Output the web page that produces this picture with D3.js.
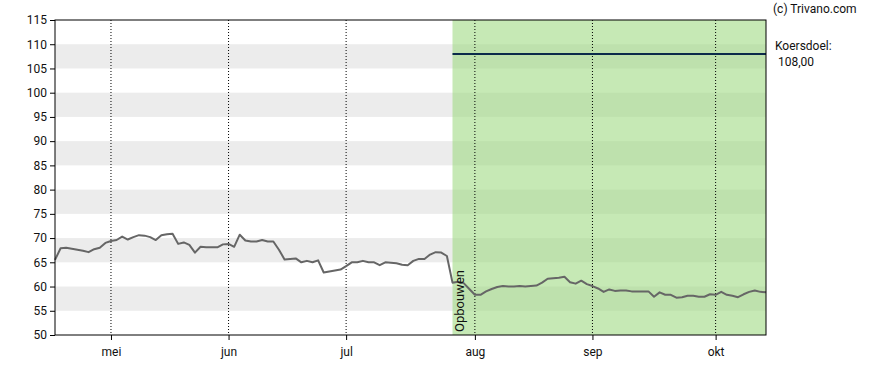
<!DOCTYPE html>
<html>
<head>
<meta charset="utf-8">
<script src="https://cdn.jsdelivr.net/npm/d3@7"></script>
<style>
  body { margin: 0; background: #fff; }
  svg text { font-family: Roboto, "Noto Sans", sans-serif; font-size: 12px; fill: #111; }
</style>
</head>
<body>
<div id="chart"></div>
<script>
// koers per handelsdag (index 0 = half april)
var prices = [
	65.5, 67.9, 68.0, 67.8, 67.6, 67.4, 67.1, 67.7, 68.0, 69.0,
	69.4, 69.6, 70.3, 69.7, 70.2, 70.6, 70.5, 70.2, 69.6, 70.6,
	70.8, 70.9, 68.8, 69.1, 68.6, 67.0, 68.2, 68.1, 68.1, 68.1,
	68.7, 68.8, 68.2, 70.7, 69.5, 69.3, 69.3, 69.6, 69.3, 69.3,
	67.6, 65.6, 65.7, 65.8, 65.0, 65.3, 65.0, 65.4, 62.9, 63.1,
	63.3, 63.5, 64.2, 65.0, 65.0, 65.3, 65.0, 65.0, 64.4, 65.0,
	64.9, 64.8, 64.5, 64.4, 65.3, 65.7, 65.7, 66.6, 67.1, 67.0,
	66.3, 60.8, 61.0, 60.7, 59.5, 58.3, 58.3, 59.0, 59.5, 59.9,
	60.1, 60.0, 60.0, 60.1, 60.0, 60.1, 60.2, 60.8, 61.6, 61.7,
	61.8, 62.0, 60.9, 60.6, 61.2, 60.5, 60.1, 59.6, 58.9, 59.4,
	59.1, 59.2, 59.2, 59.0, 59.0, 59.0, 59.0, 57.9, 58.8, 58.3,
	58.3, 57.7, 57.8, 58.1, 58.1, 57.9, 57.9, 58.4, 58.3, 58.9,
	58.3, 58.1, 57.8, 58.4, 58.9, 59.2, 58.9, 58.8
];

var monthLabels = ['mei', 'jun', 'jul', 'aug', 'sep', 'okt'];
var monthIndex = [10, 31, 52, 75, 96, 118];

var yTicks = [50, 55, 60, 65, 70, 75, 80, 85, 90, 95, 100, 105, 110, 115];
var bandStarts = [55, 65, 75, 85, 95, 105];

var adviceLabel = 'Opbouwen';
var adviceStart = 71;
var targetPrice = 108;
var targetText = '108,00';

var svgWidth = 888,
	svgHeight = 370;

var margin = { t: 20, r: 122, b: 35, l: 55 };

var width = svgWidth - margin.l - margin.r,
	height = svgHeight - margin.t - margin.b;

var svg = d3.select('#chart')
	.append('svg')
	.attr('width', svgWidth)
	.attr('height', svgHeight);

var chartGroup = svg.append('g')
	.attr('transform', `translate(${margin.l},${margin.t})`);

var xScale = d3.scaleLinear()
	.domain([0, prices.length - 1])
	.range([0, width]);

var yScale = d3.scaleLinear()
	.domain([50, 115])
	.range([height, 0]);

// grijze banden
chartGroup.selectAll('.band')
	.data(bandStarts)
	.enter()
	.append('rect')
	.attr('x', 0)
	.attr('width', width)
	.attr('y', d => yScale(d + 5))
	.attr('height', d => yScale(d) - yScale(d + 5))
	.attr('fill', '#ececec');

// advies vlak
chartGroup.append('rect')
	.attr('x', xScale(adviceStart))
	.attr('y', 0)
	.attr('width', width - xScale(adviceStart))
	.attr('height', height)
	.attr('fill', 'rgba(160,218,132,0.6)');

// maandlijnen
chartGroup.selectAll('.vline')
	.data(monthIndex)
	.enter()
	.append('line')
	.attr('x1', d => xScale(d))
	.attr('x2', d => xScale(d))
	.attr('y1', 0)
	.attr('y2', height)
	.attr('stroke', '#000')
	.attr('stroke-width', 1)
	.attr('stroke-dasharray', '1,2');

// koersdoel
chartGroup.append('line')
	.attr('x1', xScale(adviceStart))
	.attr('x2', width)
	.attr('y1', yScale(targetPrice))
	.attr('y2', yScale(targetPrice))
	.attr('stroke', '#0b2a4a')
	.attr('stroke-width', 2);

// koerslijn
var line = d3.line()
	.x((d, i) => xScale(i))
	.y(d => yScale(d));

chartGroup.append('path')
	.datum(prices)
	.attr('d', line)
	.attr('fill', 'none')
	.attr('stroke', '#666')
	.attr('stroke-width', 2)
	.attr('stroke-linejoin', 'round');

chartGroup.append('text')
	.attr('transform', `translate(${xScale(adviceStart) + 12},${height - 3})rotate(-90)`)
	.style('font-size', '13px')
	.text(adviceLabel);

// kader
chartGroup.append('rect')
	.attr('width', width)
	.attr('height', height)
	.attr('fill', 'none')
	.attr('stroke', '#000')
	.attr('stroke-width', 1);

var yAxis = chartGroup.append('g')
	.call(d3.axisLeft(yScale).tickValues(yTicks).tickSize(5).tickSizeOuter(0));

var xAxis = chartGroup.append('g')
	.attr('transform', `translate(0,${height})`)
	.call(d3.axisBottom(xScale)
		.tickValues(monthIndex)
		.tickFormat((d, i) => monthLabels[i])
		.tickSize(5)
		.tickSizeOuter(0));

[yAxis, xAxis].forEach(a => {
	a.select('.domain').remove();
	a.selectAll('.tick line').attr('stroke', '#000');
	a.selectAll('.tick text').attr('fill', '#111').style('font-size', '12px');
});
xAxis.selectAll('.tick text').attr('dy', '1.1em');

svg.append('text')
	.attr('x', 773)
	.attr('y', 13)
	.text('(c) Trivano.com');

svg.append('text')
	.attr('x', 775)
	.attr('y', 50)
	.text('Koersdoel:');

svg.append('text')
	.attr('x', 778)
	.attr('y', 66)
	.text(targetText);
</script>
</body>
</html>
